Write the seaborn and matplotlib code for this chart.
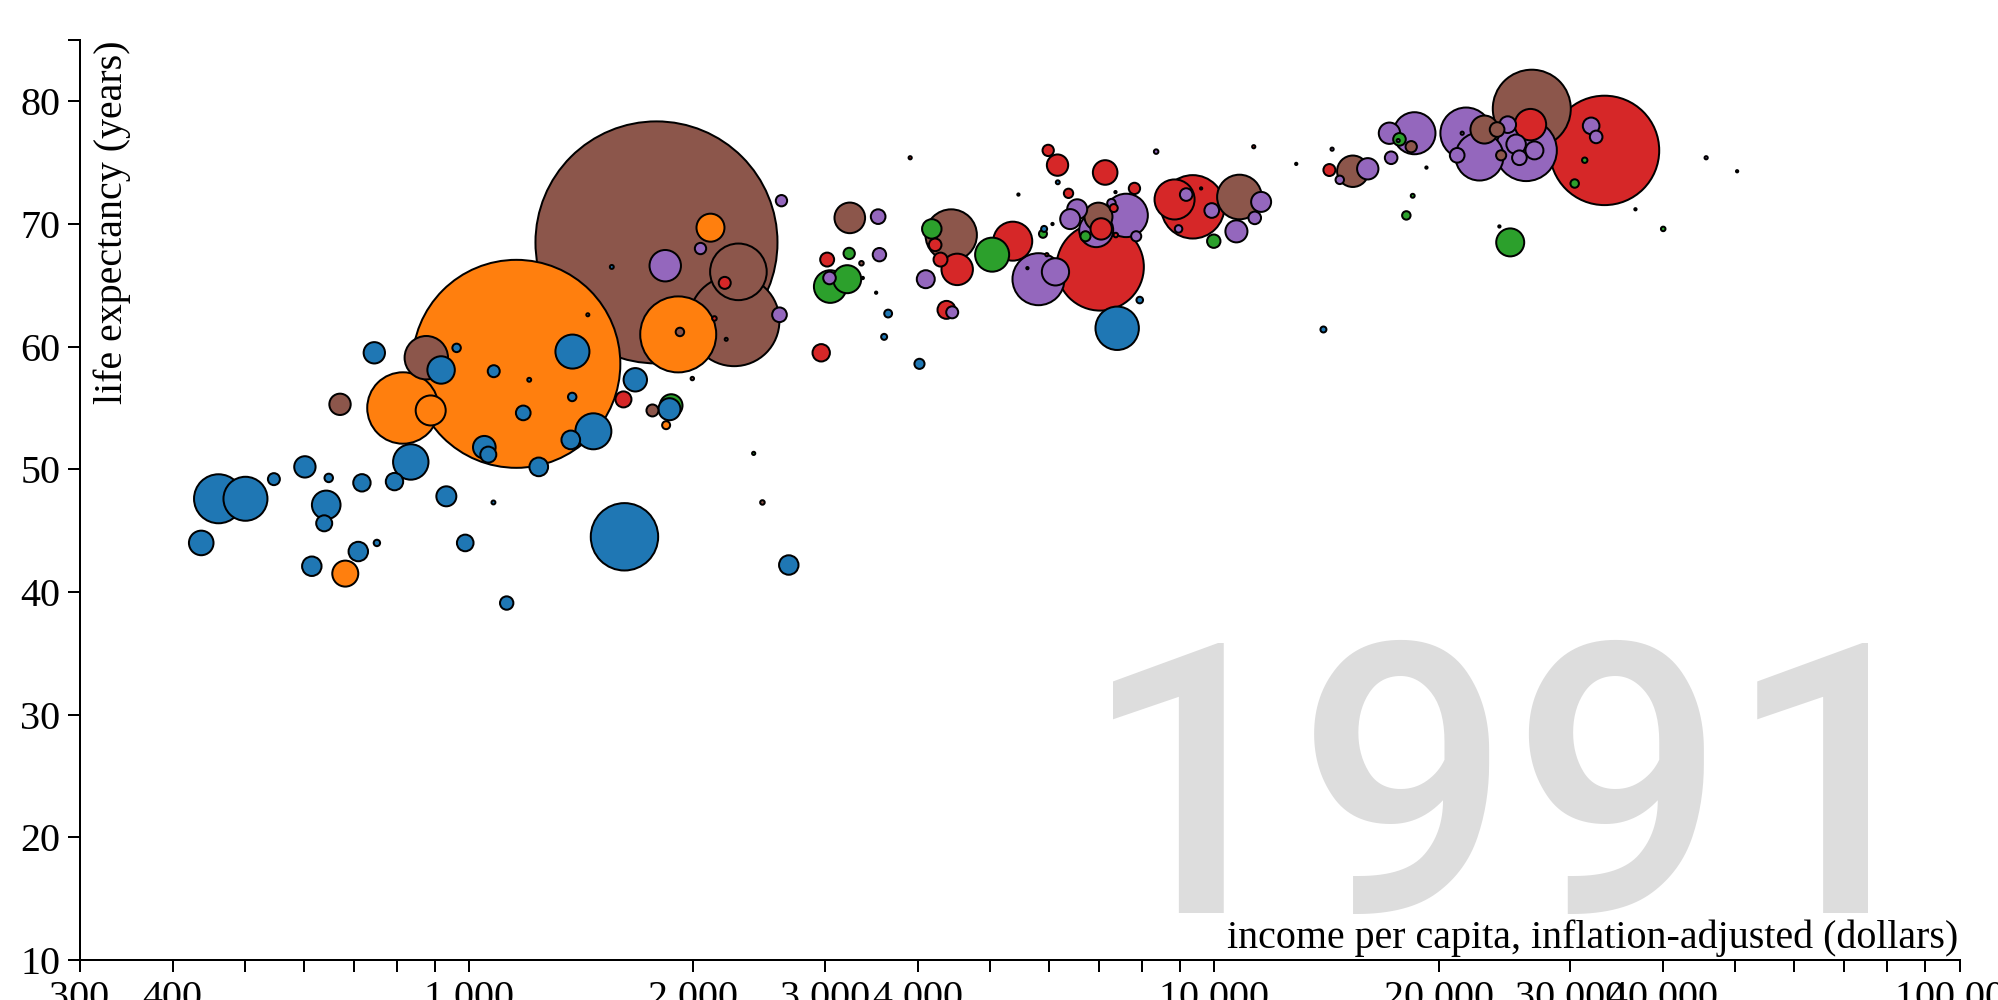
import numpy as np
import pandas as pd
import matplotlib
matplotlib.use("Agg")
import matplotlib.pyplot as plt
from matplotlib.ticker import FixedLocator, FixedFormatter, NullLocator
import seaborn as sns

# nations in 1991: income ($), life expectancy (years), population (millions)
ssa_income = [461, 501, 437, 547, 602, 648, 643, 639, 615, 710, 752, 718, 746, 794, 835,
              917, 962, 932, 988, 1079, 1048, 1061, 1078, 1123, 1182, 1204, 1240, 1376, 1375,
              1369, 1468, 1616, 1671, 1857, 1554, 2685, 3650, 3605, 4021, 5910, 6165, 7942,
              7407, 14010]
ssa_life = [47.6, 47.6, 44.0, 49.2, 50.2, 49.3, 47.1, 45.6, 42.1, 43.3, 44.0, 48.9, 59.5, 49.0,
            50.6, 58.1, 59.9, 47.8, 44.0, 58.0, 51.8, 51.2, 47.3, 39.1, 54.6, 57.3, 50.2, 59.6,
            55.9, 52.4, 53.1, 44.5, 57.3, 54.9, 66.5, 42.2, 62.7, 60.8, 58.6, 69.6, 73.4, 63.8,
            61.5, 61.4]
ssa_pop = [46.9, 37.8, 11.8, 2.8, 8.9, 1.4, 16.0, 5.0, 7.4, 7.4, 0.8, 5.9, 8.9, 5.9, 24.5,
           14.7, 1.4, 7.8, 5.4, 2.8, 10.0, 5.0, 0.3, 3.5, 4.2, 0.3, 6.8, 22.6, 1.4,
           6.8, 25.3, 88.7, 10.7, 9.5, 0.3, 7.4, 1.2, 0.7, 2.0, 0.7, 0.3, 0.85,
           36.8, 0.7]

sas_income = [1157, 815, 888, 682, 1908, 2108, 1838, 1443]
sas_life = [58.6, 55.0, 54.8, 41.5, 61.0, 69.7, 53.6, 62.6]
sas_pop = [845, 99.6, 17.6, 13.2, 112.8, 15.3, 1.25, 0.18]

eap_income = [1784, 671, 876, 2298, 2268, 1918, 2213, 1762, 1993, 2475, 3242, 3361, 3375,
              4435, 5459, 5613, 6991, 10807, 15340, 18375, 23040, 23960, 24260, 26670,
              9600, 19260, 50300, 36740, 24130, 7368, 6065, 3517]
eap_life = [68.5, 55.3, 59.1, 66.1, 62.1, 61.2, 60.6, 54.8, 57.4, 47.3, 70.5, 66.8, 65.6,
            69.1, 72.4, 66.4, 70.6, 72.2, 74.3, 76.3, 77.7, 77.7, 75.6, 79.4,
            72.9, 74.6, 74.3, 71.2, 69.8, 72.6, 70.0, 64.4]
eap_pop = [1144, 8.9, 36.8, 62.6, 160, 1.4, 0.18, 2.8, 0.23, 0.4, 18.3, 0.4, 0.1,
           51.6, 0.1, 0.1, 15.3, 38.9, 19.3, 2.5, 15.3, 4.2, 2.0, 118.8,
           0.1, 0.1, 0.1, 0.1, 0.1, 0.1, 0.1, 0.1]

ame_income = [1611, 2203, 2134, 3907, 3023, 2968, 4221, 4291, 4518, 4371, 5364, 5960, 5985,
              6160, 7137, 6373, 7813, 7329, 7050, 7375, 7028, 9355, 8844, 11295, 12880,
              14270, 26560, 33390]
ame_life = [55.7, 65.2, 62.3, 75.4, 67.1, 59.5, 68.3, 67.1, 66.3, 63.0, 68.6, 67.5, 76.0,
            74.8, 74.2, 72.5, 72.9, 71.3, 69.6, 69.1, 66.5, 71.4, 72.0, 76.3, 74.9,
            74.4, 78.1, 76.0]
ame_pop = [5.0, 2.8, 0.4, 0.2, 3.8, 5.9, 3.1, 3.8, 19.3, 6.3, 29.7, 0.2, 2.5,
           8.9, 11.8, 1.7, 2.5, 1.25, 8.9, 0.4, 149, 78.5, 31.3, 0.2, 0.1,
           2.8, 19.3, 233.8]

eca_income = [2044, 1833, 2625, 2609, 3539, 3553, 3045, 4100, 4449, 5808, 6121, 6546, 6406,
              7615, 7277, 6942, 7855, 8355, 9168, 9921, 8954, 11556, 11330, 10707, 14390,
              16066, 14735, 17270, 17180, 18560, 17650, 21770, 22690, 21180, 21510, 24760,
              26210, 25410, 26890, 25670, 32040, 32540, 45710]
eca_life = [68.0, 66.6, 71.9, 62.6, 70.6, 67.5, 65.6, 65.5, 62.8, 65.5, 66.1, 71.2, 70.4,
            70.7, 71.7, 69.5, 69.0, 75.9, 72.4, 71.1, 69.6, 71.8, 70.5, 69.4, 76.1,
            74.5, 73.6, 75.4, 77.4, 77.4, 76.8, 77.4, 75.5, 75.6, 77.4, 78.1,
            76.0, 76.5, 76.0, 75.4, 78.0, 77.1, 75.4]
eca_pop = [2.5, 19.3, 2.5, 4.2, 4.2, 3.5, 3.1, 6.3, 2.8, 52.8, 14.5, 7.8, 7.8,
           36.8, 1.4, 22.6, 2.0, 0.4, 3.1, 4.2, 1.1, 7.8, 3.1, 9.5, 0.2,
           8.9, 1.4, 3.1, 8.9, 34.5, 0.2, 51.6, 45.0, 4.2, 0.2, 5.4,
           73.6, 7.4, 6.3, 4.2, 5.4, 3.1, 0.2]

mena_income = [1867, 2409, 3236, 3052, 3216, 4177, 5033, 5889, 6716, 9983, 17720, 18460,
               18100, 24950, 31410, 30450, 40030]
mena_life = [55.2, 51.3, 67.6, 64.9, 65.5, 69.6, 67.5, 69.2, 69.0, 68.6, 76.9, 72.3,
             70.7, 68.5, 75.2, 73.3, 69.6]
mena_pop = [10.0, 0.2, 2.5, 20.8, 15.3, 7.4, 22.6, 1.25, 2.0, 3.5, 3.1, 0.3,
            1.4, 15.3, 0.57, 1.4, 0.4]

regions = ["Sub-Saharan Africa", "South Asia", "Middle East & North Africa",
           "America", "Europe & Central Asia", "East Asia & Pacific"]
region_colors = ["#1f77b4", "#ff7f0e", "#2ca02c", "#d62728", "#9467bd", "#8c564b"]
year = "1991"

x_ticks = [300, 400, 500, 600, 700, 800, 900,
           1000, 2000, 3000, 4000, 5000, 6000, 7000, 8000, 9000,
           10000, 20000, 30000, 40000, 50000, 60000, 70000, 80000, 90000, 100000]
x_labels = ["300", "400", "", "", "", "", "",
            "1 000", "2 000", "3 000", "4 000", "", "", "", "", "",
            "10 000", "20 000", "30 000", "40 000", "", "", "", "", "", "100 000"]
y_ticks = [10, 20, 30, 40, 50, 60, 70, 80, 85]
y_labels = ["10", "20", "30", "40", "50", "60", "70", "80", ""]

parts = []
for reg, inc, life, pop in [
    ("Sub-Saharan Africa", ssa_income, ssa_life, ssa_pop),
    ("South Asia", sas_income, sas_life, sas_pop),
    ("East Asia & Pacific", eap_income, eap_life, eap_pop),
    ("America", ame_income, ame_life, ame_pop),
    ("Europe & Central Asia", eca_income, eca_life, eca_pop),
    ("Middle East & North Africa", mena_income, mena_life, mena_pop),
]:
    parts.append(pd.DataFrame({"region": reg, "income": inc, "life": life, "pop": pop}))
df = pd.concat(parts, ignore_index=True)
# big ones first so small bubbles sit on top
df = df.sort_values("pop", ascending=False).reset_index(drop=True)

sns.set_style("ticks")
plt.rcParams["font.family"] = ["Liberation Serif", "DejaVu Serif"]

W, H = 1998, 1000
fig = plt.figure(figsize=(W / 100, H / 100), dpi=100)
ax = fig.add_axes([79.5 / W, 40 / H, (1959.5 - 79.5) / W, 920 / H])

# radius = 80px * sqrt(pop / 500M)  ->  marker area in pt^2 = 26.54 * pop(M)
pmax = 1200.0
sns.scatterplot(data=df, x="income", y="life", hue="region", size="pop",
                sizes=(0, 26.54 * pmax), size_norm=(0, pmax),
                palette=dict(zip(regions, region_colors)),
                edgecolor="black", linewidth=1.44, alpha=1, legend=False,
                ax=ax, zorder=2)

ax.set_xscale("log")
ax.set_xlim(300, 100000)
ax.set_ylim(10, 85)
ax.xaxis.set_major_locator(FixedLocator(x_ticks))
ax.xaxis.set_major_formatter(FixedFormatter(x_labels))
ax.xaxis.set_minor_locator(NullLocator())
ax.yaxis.set_major_locator(FixedLocator(y_ticks))
ax.yaxis.set_major_formatter(FixedFormatter(y_labels))
ax.set_xlabel("")
ax.set_ylabel("")

for side in ["top", "right"]:
    ax.spines[side].set_visible(False)
for side in ["left", "bottom"]:
    ax.spines[side].set_linewidth(1.44)
    ax.spines[side].set_color("black")
ax.tick_params(axis="both", direction="out", length=8.64, width=1.44, color="black",
               labelsize=28.8, labelcolor="black")
ax.tick_params(axis="x", pad=5.8)
ax.tick_params(axis="y", pad=5.0)
ax.patch.set_alpha(0)

# big year behind the bubbles
ax.text(1941 / W, 1 - 912.7 / H, year, transform=fig.transFigure, ha="right", va="baseline",
        fontsize=272, color="#dddddd", family=["Roboto", "DejaVu Sans"], fontweight=500,
        zorder=0)

fig.text(1958 / W, 1 - 948 / H, "income per capita, inflation-adjusted (dollars)",
         ha="right", va="baseline", fontsize=28.8, color="black")
fig.text(122 / W, 1 - 40 / H, "life expectancy (years)", rotation=90, rotation_mode="anchor",
         ha="right", va="baseline", fontsize=28.8, color="black")

fig.savefig("out.png", dpi=100)
